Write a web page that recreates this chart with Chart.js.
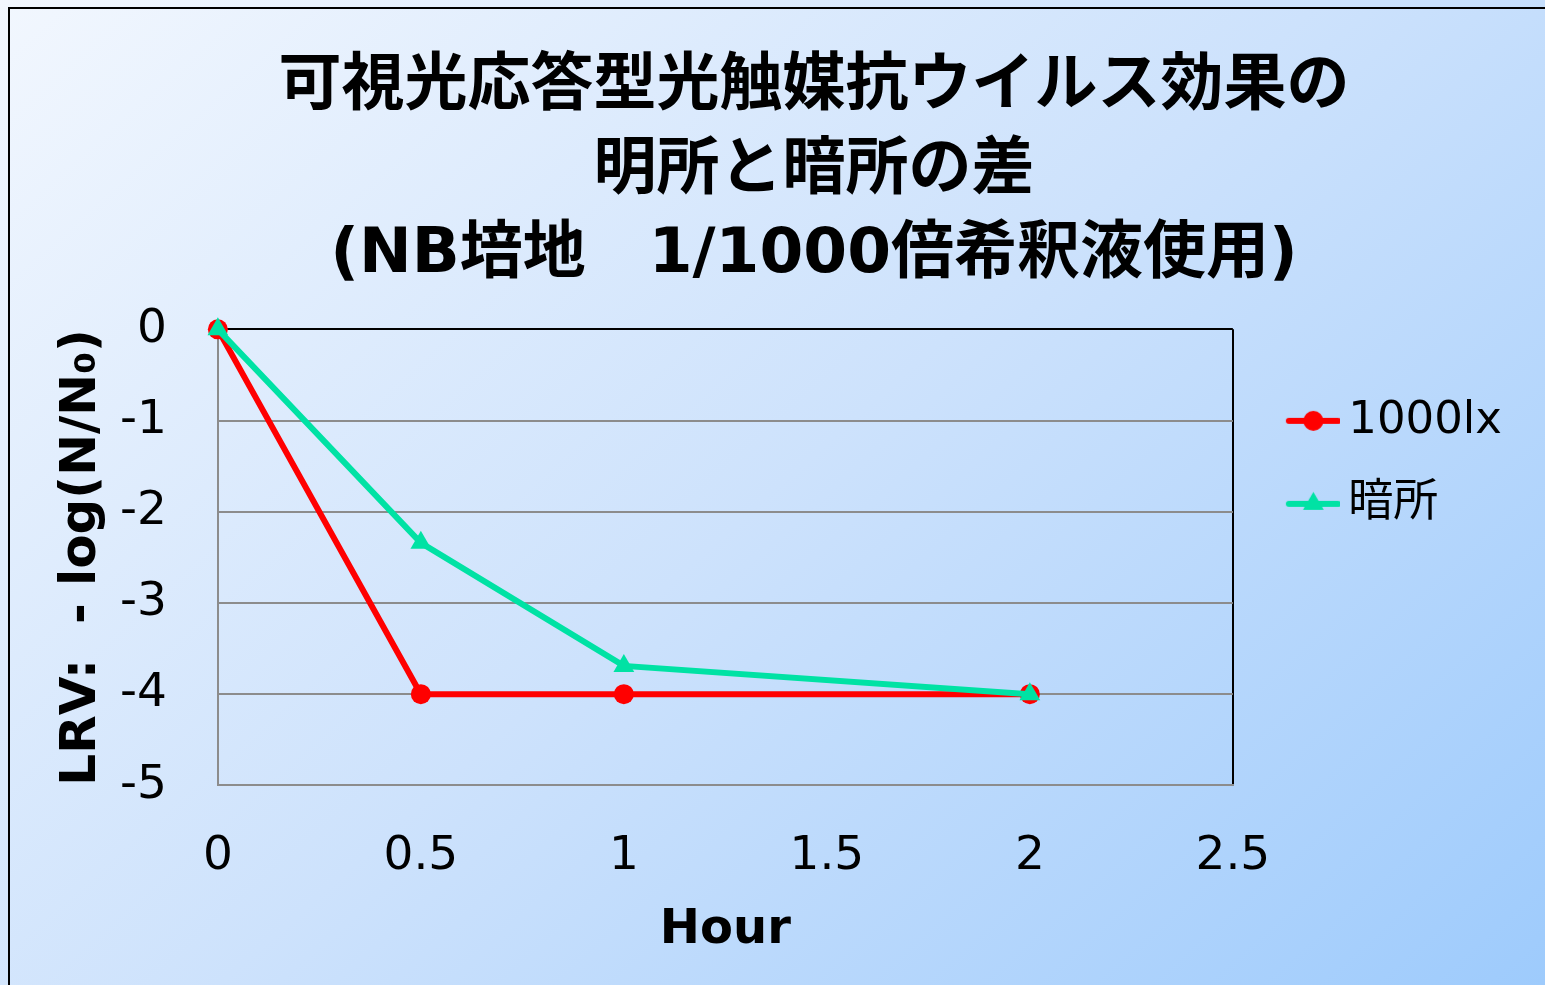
<!DOCTYPE html>
<html>
<head>
<meta charset="utf-8">
<script src="https://cdn.jsdelivr.net/npm/chart.js@4.4.1/dist/chart.umd.min.js"></script>
<style>
  html, body { margin: 0; padding: 0; overflow: hidden; background: #fff; }
</style>
</head>
<body>
<canvas id="lrvChart" width="1545" height="985"></canvas>
<script>
// data
const hours = [0, 0.5, 1, 2];
const lightLrv = [0, -4, -4, -4];
const darkLrv = [0, -2.34, -3.69, -4];
const seriesNames = ["1000lx", "暗所"];
const xTicks = [0, 2.5, 0.5]; // min, max, step
const yTicks = [-5, 0, 1];
const titleLines = [
  "可視光応答型光触媒抗ウイルス効果の",
  "明所と暗所の差",
  "(NB培地　1/1000倍希釈液使用)",
];
const xTitle = "Hour";
const yTitle = "LRV:  - log(N/N₀)";

const RED = "#ff0000";
const GREEN = "#00e2a4";
const GRID = "#8c8c8c";

Chart.defaults.font.family = "'DejaVu Sans', 'Noto Sans CJK JP', sans-serif";
Chart.defaults.color = "#000";

// line + marker icon for the legend
function legendMarker(color, style, radius) {
  const c = document.createElement("canvas");
  c.width = 83;
  c.height = 28;
  const g = c.getContext("2d");
  g.strokeStyle = color;
  g.fillStyle = color;
  g.lineWidth = 6;
  g.lineCap = "round";
  g.beginPath();
  g.moveTo(32, 14);
  g.lineTo(81, 14);
  g.stroke();
  Chart.helpers.drawPoint(g, { pointStyle: style, radius: radius, borderWidth: 0, rotation: 0 }, 56.5, 14);
  return c;
}

const paperBackground = {
  id: "paperBackground",
  beforeDraw(chart) {
    const { ctx, width, height } = chart;
    // fill runs toward the lower right, slightly steeper than the diagonal
    const grad = ctx.createLinearGradient(0, 0, 1172, 1315);
    grad.addColorStop(0, "#f2f7fe");
    grad.addColorStop(0.5, "#cde2fc");
    grad.addColorStop(1, "#9ecbfc");
    ctx.save();
    ctx.fillStyle = grad;
    ctx.fillRect(0, 0, width, height);
    ctx.strokeStyle = "#000";
    ctx.lineWidth = 2;
    ctx.beginPath();
    ctx.moveTo(9, height + 2);
    ctx.lineTo(9, 8);
    ctx.lineTo(width + 2, 8);
    ctx.stroke();
    ctx.restore();
  },
  afterLayout(chart) {
    // title sits right of the canvas centre in the original
    if (chart.titleBlock) chart.titleBlock.left += 106;
  },
};

const markers = [legendMarker(RED, "circle", 10), legendMarker(GREEN, "triangle", 12)];
const plainNumber = (v) => String(v);

const ctx = document.getElementById("lrvChart").getContext("2d");
const chart = new Chart(ctx, {
  type: "scatter",
  data: {
    datasets: [
      {
        label: seriesNames[0],
        data: hours.map((h, i) => ({ x: h, y: lightLrv[i] })),
        showLine: true,
        borderColor: RED,
        backgroundColor: RED,
        borderWidth: 6,
        pointStyle: "circle",
        pointRadius: 10,
        pointHoverRadius: 10,
        pointBorderWidth: 0,
        clip: false,
        order: 2,
      },
      {
        label: seriesNames[1],
        data: hours.map((h, i) => ({ x: h, y: darkLrv[i] })),
        showLine: true,
        borderColor: GREEN,
        backgroundColor: GREEN,
        borderWidth: 6,
        pointStyle: "triangle",
        pointRadius: 12,
        pointHoverRadius: 12,
        pointBorderWidth: 0,
        clip: false,
        order: 1,
      },
    ],
  },
  options: {
    responsive: false,
    animation: false,
    devicePixelRatio: 1,
    layout: { padding: { left: 10, right: 33, top: 0, bottom: 0 } },
    plugins: {
      title: {
        display: true,
        text: titleLines,
        color: "#000",
        font: { size: 63, weight: "bold", lineHeight: 1.33 },
        padding: { top: 46, bottom: 32 },
      },
      legend: {
        position: "right",
        align: "start",
        fullSize: false,
        title: { display: true, text: "", font: { size: 10, lineHeight: 1 }, padding: { top: 21, bottom: 0 } },
        labels: {
          color: "#000",
          font: { size: 45 },
          padding: 38,
          usePointStyle: true,
          pointStyleWidth: 55,
          generateLabels: (ch) =>
            seriesNames.map((name, i) => ({
              text: name,
              datasetIndex: i,
              pointStyle: markers[i],
              fillStyle: i === 0 ? RED : GREEN,
              strokeStyle: i === 0 ? RED : GREEN,
              lineWidth: 0,
              hidden: false,
              fontColor: "#000",
            })),
        },
      },
      tooltip: { enabled: false },
    },
    scales: {
      x: {
        type: "linear",
        min: xTicks[0],
        max: xTicks[1],
        ticks: {
          stepSize: xTicks[2],
          font: { size: 47, lineHeight: 1 },
          color: "#000",
          padding: 0,
          callback: plainNumber,
        },
        grid: {
          drawTicks: true,
          tickLength: 48,
          tickColor: "rgba(0,0,0,0)",
          lineWidth: 2,
          color: (c) => (c.tick && c.tick.value === xTicks[1] ? "#000" : "rgba(0,0,0,0)"),
        },
        border: { color: GRID, width: 2 },
        title: {
          display: true,
          text: xTitle,
          color: "#000",
          font: { size: 48, weight: "bold" },
          padding: { top: 21, bottom: 26 },
        },
      },
      y: {
        min: yTicks[0],
        max: yTicks[1],
        ticks: {
          stepSize: yTicks[2],
          font: { size: 47 },
          color: "#000",
          padding: 0,
          callback: plainNumber,
        },
        grid: {
          drawTicks: true,
          tickLength: 51,
          tickColor: "rgba(0,0,0,0)",
          lineWidth: 2,
          color: (c) => (c.tick && c.tick.value === yTicks[1] ? "#000" : GRID),
        },
        border: { color: GRID, width: 2 },
        title: {
          display: true,
          text: yTitle,
          color: "#000",
          font: { size: 50, weight: "bold" },
          padding: { top: 42, bottom: 8 },
        },
      },
    },
  },
  plugins: [paperBackground],
});
</script>
</body>
</html>
